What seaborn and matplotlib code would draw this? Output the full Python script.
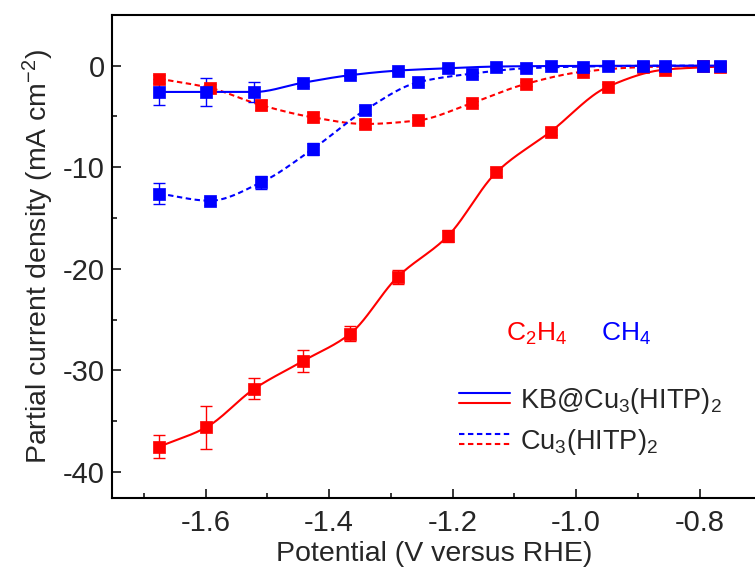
import numpy as np
import pandas as pd
import matplotlib
matplotlib.use("Agg")
import matplotlib.pyplot as plt
import seaborn as sns
from matplotlib.lines import Line2D
from matplotlib.legend_handler import HandlerBase

# ---------------- data ----------------
x_kb = [-1.675, -1.599, -1.521, -1.443, -1.366, -1.289, -1.208, -1.129, -1.041, -0.949, -0.856, -0.767]
c2h4_kb = [-37.5, -35.6, -31.8, -29.1, -26.4, -20.8, -16.8, -10.5, -6.5, -2.1, -0.4, -0.1]
c2h4_kb_err = [1.1, 2.1, 1.05, 1.1, 0.75, 0.65, 0.6, 0.35, 0.3, 0.3, 0.2, 0.2]
ch4_kb = [-2.6, -2.6, -2.6, -1.7, -0.95, -0.5, -0.27, -0.1, -0.05, -0.03, -0.02, -0.01]
ch4_kb_err = [1.3, 1.4, 0.95, 0.3, 0.2, 0.15, 0.1, 0.1, 0.1, 0.1, 0.1, 0.1]

x_cu = [-1.675, -1.593, -1.510, -1.426, -1.342, -1.256, -1.169, -1.081, -0.988, -0.891, -0.794]
c2h4_cu = [-1.3, -2.2, -3.9, -5.1, -5.75, -5.4, -3.7, -1.8, -0.6, -0.15, -0.03]
c2h4_cu_err = [0.4, 0.4, 0.5, 0.5, 0.4, 0.3, 0.2, 0.2, 0.1, 0.1, 0.1]
ch4_cu = [-12.6, -13.3, -11.5, -8.2, -4.4, -1.65, -0.8, -0.27, -0.1, -0.03, -0.01]
ch4_cu_err = [1.0, 0.4, 0.6, 0.6, 0.4, 0.3, 0.2, 0.1, 0.1, 0.1, 0.1]

x_ticks = [-1.6, -1.4, -1.2, -1.0, -0.8]
y_ticks = [-40, -30, -20, -10, 0]

RED = "#ff0000"
BLUE = "#0000ff"
DASH = (0, (2.6, 1.7))
FS = 19.5
FS_TICK = 21
FS_LABEL = 20.5

sns.set_style("ticks")
plt.rcParams['font.family'] = ['Liberation Sans', 'DejaVu Sans']
plt.rcParams['mathtext.fontset'] = 'custom'
plt.rcParams['mathtext.rm'] = 'Liberation Sans'
plt.rcParams['mathtext.it'] = 'Liberation Sans:italic'
plt.rcParams['mathtext.default'] = 'regular'
plt.rcParams['axes.unicode_minus'] = False


def pchip(x, y, n=300):
    x = np.asarray(x, float)
    y = np.asarray(y, float)
    h = np.diff(x)
    d = np.diff(y) / h
    k = len(x)
    m = np.zeros(k)
    for i in range(1, k - 1):
        if d[i - 1] * d[i] <= 0:
            m[i] = 0.0
        else:
            w1 = 2 * h[i] + h[i - 1]
            w2 = h[i] + 2 * h[i - 1]
            m[i] = (w1 + w2) / (w1 / d[i - 1] + w2 / d[i])
    m[0] = d[0]
    m[-1] = d[-1]
    xs = np.linspace(x[0], x[-1], n)
    idx = np.clip(np.searchsorted(x, xs) - 1, 0, k - 2)
    t = (xs - x[idx]) / h[idx]
    h00 = 2 * t ** 3 - 3 * t ** 2 + 1
    h10 = t ** 3 - 2 * t ** 2 + t
    h01 = -2 * t ** 3 + 3 * t ** 2
    h11 = t ** 3 - t ** 2
    ys = h00 * y[idx] + h10 * h[idx] * m[idx] + h01 * y[idx + 1] + h11 * h[idx] * m[idx + 1]
    return xs, ys


W, H = 755, 570
fig = plt.figure(figsize=(W / 100, H / 100), dpi=100)
ax_l, ax_r, ax_t, ax_b = 111.7, 757.0, 14.7, 497.5
ax = fig.add_axes([ax_l / W, 1 - ax_b / H, (ax_r - ax_l) / W, (ax_b - ax_t) / H])

series = [
    (x_cu, c2h4_cu, c2h4_cu_err, RED, DASH),
    (x_cu, ch4_cu, ch4_cu_err, BLUE, DASH),
    (x_kb, c2h4_kb, c2h4_kb_err, RED, '-'),
    (x_kb, ch4_kb, ch4_kb_err, BLUE, '-'),
]

for xv, yv, ev, col, ls in series:
    xs, ys = pchip(xv, yv)
    sns.lineplot(x=xs, y=ys, ax=ax, color=col, linewidth=1.5, linestyle=ls,
                 sort=False, estimator=None)
    ax.errorbar(xv, yv, yerr=ev, fmt='none', ecolor=col, elinewidth=1.0,
                capsize=4.2, capthick=1.0, zorder=3)
    sns.scatterplot(x=xv, y=yv, ax=ax, color=col, marker='s', s=85,
                    edgecolor=col, linewidth=0.5, zorder=4)

ax.set_xlim(-1.752, -0.707)
ax.set_ylim(-42.5, 4.95)
ax.set_xticks(x_ticks)
ax.set_xticklabels([f"{t:.1f}" for t in x_ticks])
ax.set_yticks(y_ticks)
ax.set_yticklabels([str(t) for t in y_ticks])
ax.set_xticks(np.arange(-1.7, -0.72, 0.1), minor=True)
ax.set_yticks(np.arange(-40, 5.1, 5), minor=True)
ax.tick_params(which='major', direction='in', length=6.5, width=1.3, labelsize=FS_TICK,
               top=False, right=False)
ax.tick_params(axis='x', which='major', pad=8.5)
ax.tick_params(axis='y', which='major', pad=5)
ax.tick_params(which='minor', direction='in', length=3.6, width=1.3,
               top=False, right=False)
for sp in ax.spines.values():
    sp.set_linewidth(1.5)
    sp.set_color('black')
ax.spines['right'].set_visible(False)

ax.set_xlabel("Potential (V versus RHE)", fontsize=FS_LABEL, labelpad=3)
ax.set_ylabel("Partial current density (mA cm$^{-2}$)", fontsize=FS_LABEL, labelpad=5)

fig.text(536.7 / W, 1 - 334 / H, "C$_2$H$_4$", color=RED, fontsize=FS - 0.5,
         ha='center', va='center')
fig.text(626.0 / W, 1 - 334 / H, "CH$_4$", color=BLUE, fontsize=FS - 0.5,
         ha='center', va='center')


class TwoLines(HandlerBase):
    def __init__(self, ls):
        super().__init__()
        self.ls = ls

    def create_artists(self, legend, orig_handle, xdescent, ydescent, width,
                       height, fontsize, trans):
        x0, x1 = -xdescent, -xdescent + width
        yb = -ydescent + height * 0.5 + 4.2
        yr = -ydescent + height * 0.5 - 3.0
        l1 = Line2D([x0, x1], [yb, yb], color=BLUE, lw=1.5, linestyle=self.ls, transform=trans)
        l2 = Line2D([x0, x1], [yr, yr], color=RED, lw=1.5, linestyle=self.ls, transform=trans)
        return [l1, l2]


h1 = Line2D([], [])
h2 = Line2D([], [])
ax.legend([h1, h2], ["KB@Cu$_3$(HITP)$_2$", "Cu$_3$(HITP)$_2$"],
          handler_map={h1: TwoLines('-'), h2: TwoLines(DASH)},
          loc='upper left', bbox_to_anchor=(459 / W, 1 - 386 / H),
          bbox_transform=fig.transFigure, frameon=False, borderpad=0, borderaxespad=0,
          fontsize=FS, handlelength=1.87, handletextpad=0.4, labelspacing=0.4)

fig.savefig("out.png", dpi=100)
